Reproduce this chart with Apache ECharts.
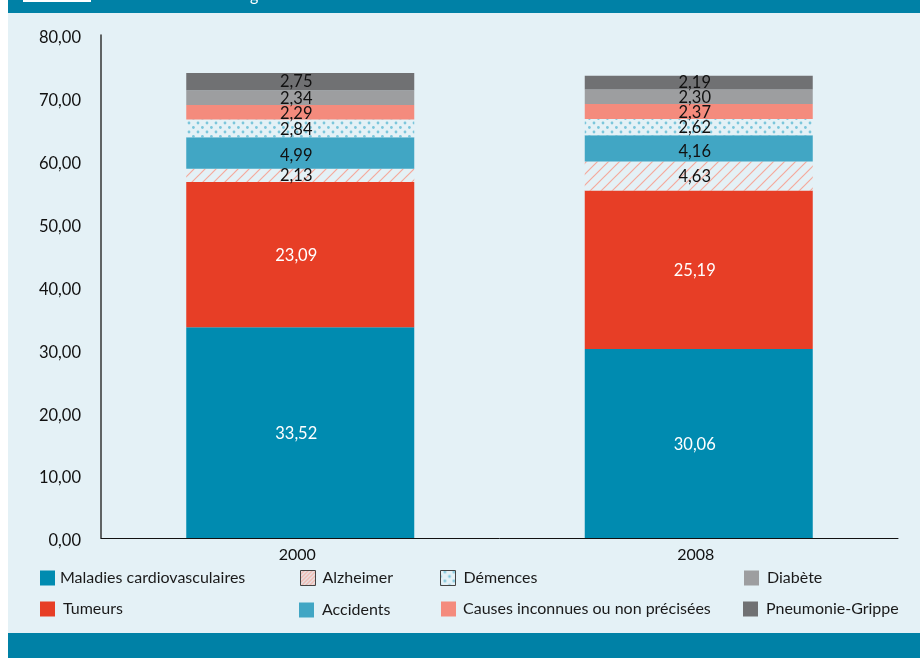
<!DOCTYPE html>
<html>
<head>
<meta charset="utf-8">
<style>html,body{margin:0;padding:0;background:#fff}#c{width:920px;height:658px}</style>
<script src="https://cdn.jsdelivr.net/npm/echarts@6/dist/echarts.min.js"></script>
</head>
<body>
<div id="c"></div>
<script>
const years = ['2000', '2008'];
const maladies = [33.52, 30.06];
const tumeurs = [23.09, 25.19];
const alzheimer = [2.13, 4.63];
const accidents = [4.99, 4.16];
const demences = [2.84, 2.62];
const causes = [2.29, 2.37];
const diabete = [2.34, 2.30];
const pneumonie = [2.75, 2.19];

const FONT = 'Lato, "Open Sans", sans-serif';
const PANEL = '#E4F1F6';
const BAND = '#0081A6';

// Diagonal hatch tile; the period sets how dense the stripes look
function hatchTile(s, width) {
  const c = document.createElement('canvas');
  c.width = c.height = s;
  const g = c.getContext('2d');
  g.fillStyle = PANEL; g.fillRect(0, 0, s, s);
  g.strokeStyle = '#F4A99C'; g.lineWidth = width;
  [[0, s, s, 0], [-1, 1, 1, -1], [s - 1, s + 1, s + 1, s - 1]].forEach(l => {
    g.beginPath(); g.moveTo(l[0], l[1]); g.lineTo(l[2], l[3]); g.stroke();
  });
  return c;
}
// Staggered dot tile for the Démences band
function dotTile() {
  const c = document.createElement('canvas');
  c.width = 9; c.height = 9;
  const g = c.getContext('2d');
  g.fillStyle = PANEL; g.fillRect(0, 0, 9, 9);
  g.fillStyle = '#7CC6DB';
  [[0, 6], [9, 6], [4.4, 1.5]].forEach(p => {
    g.beginPath(); g.arc(p[0], p[1], 1.4, 0, Math.PI * 2); g.fill();
  });
  return c;
}
const hatch = { image: hatchTile(11, 1.2), repeat: 'repeat' };
const hatchSmall = { image: hatchTile(4, 1.3), repeat: 'repeat' };
const dots = { image: dotTile(), repeat: 'repeat' };

const rows = [
  { name: 'Maladies cardiovasculaires', data: maladies, color: '#008BB0', text: '#fff', nudge: 1 },
  { name: 'Tumeurs', data: tumeurs, color: '#E73E26', text: '#fff', nudge: 1 },
  { name: 'Alzheimer', data: alzheimer, color: hatch, swatch: hatchSmall, text: '#111', boxed: true, nudge: 0.5 },
  { name: 'Accidents', data: accidents, color: '#41A6C4', text: '#111', nudge: 3 },
  { name: 'Démences', data: demences, color: dots, text: '#111', boxed: true, nudge: 1 },
  { name: 'Causes inconnues ou non précisées', data: causes, color: '#F48B7D', text: '#111', nudge: 1 },
  { name: 'Diabète', data: diabete, color: '#9D9EA0', text: '#111', nudge: 1 },
  { name: 'Pneumonie-Grippe', data: pneumonie, color: '#707173', text: '#111', nudge: 0 }
];

// Hand-placed legend entries, two rows of four: [left, top, gap before the text]
const legendSpots = {
  'Maladies cardiovasculaires': [40, 570, 0],
  'Tumeurs': [40, 601, 3],
  'Alzheimer': [300, 570, 2],
  'Accidents': [299, 602, 3],
  'Démences': [440, 570, 3],
  'Causes inconnues ou non précisées': [441, 601, 2],
  'Diabète': [744, 570, 3],
  'Pneumonie-Grippe': [743, 601, 3]
};

const decimal = v => v.toFixed(2).replace('.', ',');

const series = rows.map(r => ({
  name: r.name,
  type: 'bar',
  stack: 'total',
  barWidth: 228,
  data: r.data,
  itemStyle: { color: r.color },
  label: {
    show: true,
    position: 'inside',
    offset: [-4, r.nudge],
    color: r.text,
    fontFamily: FONT,
    fontSize: 16.5,
    formatter: p => decimal(p.value)
  }
}));

const legends = rows.map(r => {
  const spot = legendSpots[r.name];
  return {
    left: spot[0],
    top: spot[1],
    itemWidth: 15,
    itemHeight: 15,
    padding: 0,
    selectedMode: false,
    icon: 'rect',
    data: [{
      name: r.name,
      itemStyle: r.boxed
        ? { color: r.swatch || r.color, borderColor: '#444', borderWidth: 1 }
        : { color: r.color }
    }],
    textStyle: { fontFamily: FONT, fontSize: 16, color: '#1a1a1a', padding: [0, 0, 0, spot[2]] }
  };
});

const chart = echarts.init(document.getElementById('c'), null, { renderer: 'canvas' });
chart.setOption({
  animation: false,
  graphic: [
    { type: 'rect', z: -10, silent: true, shape: { x: 8, y: 0, width: 912, height: 658 }, style: { fill: PANEL } },
    { type: 'rect', z: -9, silent: true, shape: { x: 8, y: 0, width: 912, height: 13 }, style: { fill: BAND } },
    { type: 'rect', z: -9, silent: true, shape: { x: 8, y: 633, width: 912, height: 25 }, style: { fill: BAND } },
    { type: 'rect', z: -8, silent: true, shape: { x: 23, y: 0, width: 68, height: 2 }, style: { fill: '#fff' } },
    { type: 'text', z: -8, silent: true, style: { x: 250, y: 4, text: 'g', fill: '#fff', font: '16px Lato', verticalAlign: 'bottom' } }
  ],
  legend: legends,
  grid: { left: 101, right: 22, top: 35, bottom: 120, containLabel: false },
  xAxis: {
    type: 'category',
    data: years,
    axisTick: { show: false },
    axisLine: { lineStyle: { color: '#111', width: 1 } },
    axisLabel: { fontFamily: FONT, fontSize: 16, color: '#111', margin: 9, padding: [0, 6, 0, 0] }
  },
  yAxis: {
    type: 'value',
    min: 0,
    max: 80,
    interval: 10,
    splitLine: { show: false },
    axisTick: { show: false },
    axisLine: { show: true, lineStyle: { color: '#333', width: 1.5 } },
    axisLabel: { fontFamily: FONT, fontSize: 16.5, color: '#111', margin: 20, verticalAlign: 'top', lineHeight: 6, formatter: decimal }
  },
  series
});
</script>
</body>
</html>
